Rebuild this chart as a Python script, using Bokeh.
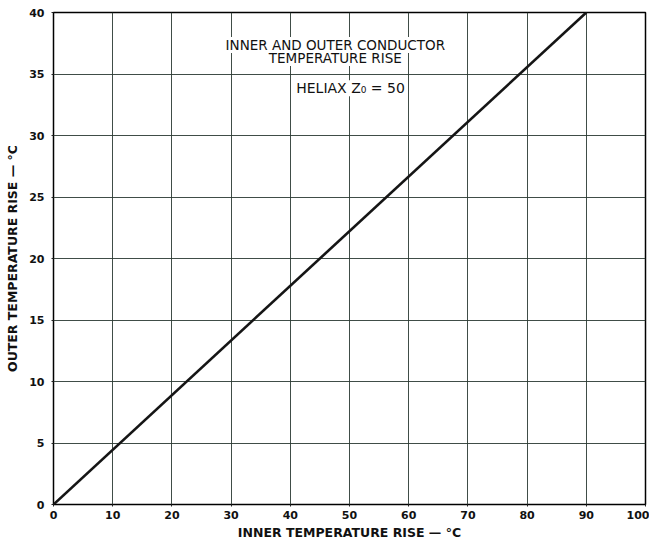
from bokeh.plotting import figure
from bokeh.models import Range1d, FixedTicker, Label
from bokeh.embed import file_html
from bokeh.resources import INLINE

# Data
inner_rise = [0, 90]
outer_rise = [0, 40]
x_ticks = [0, 10, 20, 30, 40, 50, 60, 70, 80, 90, 100]
y_ticks = [0, 5, 10, 15, 20, 25, 30, 35, 40]
title_lines = ["INNER AND OUTER CONDUCTOR", "TEMPERATURE RISE"]
subtitle = "HELIAX Z\u2080 = 50"
x_label = "INNER TEMPERATURE RISE \u2014 \u00b0C"
y_label = "OUTER TEMPERATURE RISE \u2014 \u00b0C"

FONT = "DejaVu Sans"

p = figure(width=649, height=542, output_backend="svg", toolbar_location=None,
           x_range=Range1d(0, 100), y_range=Range1d(0, 40),
           min_border_left=53, min_border_right=4, min_border_top=12, min_border_bottom=30)

p.background_fill_color = "white"
p.border_fill_color = "white"
p.outline_line_color = "black"
p.outline_line_width = 1.5

p.xaxis.ticker = FixedTicker(ticks=x_ticks)
p.yaxis.ticker = FixedTicker(ticks=y_ticks)
for ax in (p.xaxis, p.yaxis):
    ax.axis_line_color = None
    ax.major_tick_out = 2
    ax.major_tick_in = 0
    ax.minor_tick_out = 0
    ax.minor_tick_in = 0
    ax.major_tick_line_color = "#222222"
    ax.major_label_text_font = FONT
    ax.major_label_text_font_size = "11px"
    ax.major_label_text_font_style = "bold"
    ax.major_label_text_color = "#111111"
    ax.axis_label_text_font = FONT
    ax.axis_label_text_font_size = "12.5px"
    ax.axis_label_text_font_style = "bold"
    ax.axis_label_text_color = "#111111"

p.xaxis.axis_label = x_label
p.yaxis.axis_label = y_label
p.xaxis.major_label_standoff = 4
p.yaxis.major_label_standoff = 7
p.xaxis.axis_label_standoff = 3
p.yaxis.axis_label_standoff = 6

p.xgrid.ticker = FixedTicker(ticks=x_ticks)
p.ygrid.ticker = FixedTicker(ticks=y_ticks)
p.grid.grid_line_color = "#2b3a33"
p.grid.grid_line_width = 1
p.grid.grid_line_alpha = 0.9

p.line(inner_rise, outer_rise, line_color="#151515", line_width=2.6)

y_pos = [37.35, 36.3]
for t, yy in zip(title_lines, y_pos):
    p.add_layout(Label(x=47.6, y=yy, text=t, text_align="center", text_baseline="middle",
                       text_font=FONT, text_font_size="13.5px", text_color="#111111",
                       background_fill_color="white", background_fill_alpha=1.0))
p.add_layout(Label(x=41.0, y=33.85, text=subtitle, text_align="left", text_baseline="middle",
                   text_font=FONT, text_font_size="14px", text_color="#111111",
                   background_fill_color="white", background_fill_alpha=1.0))

open("out.html", "w").write(file_html(p, INLINE))
